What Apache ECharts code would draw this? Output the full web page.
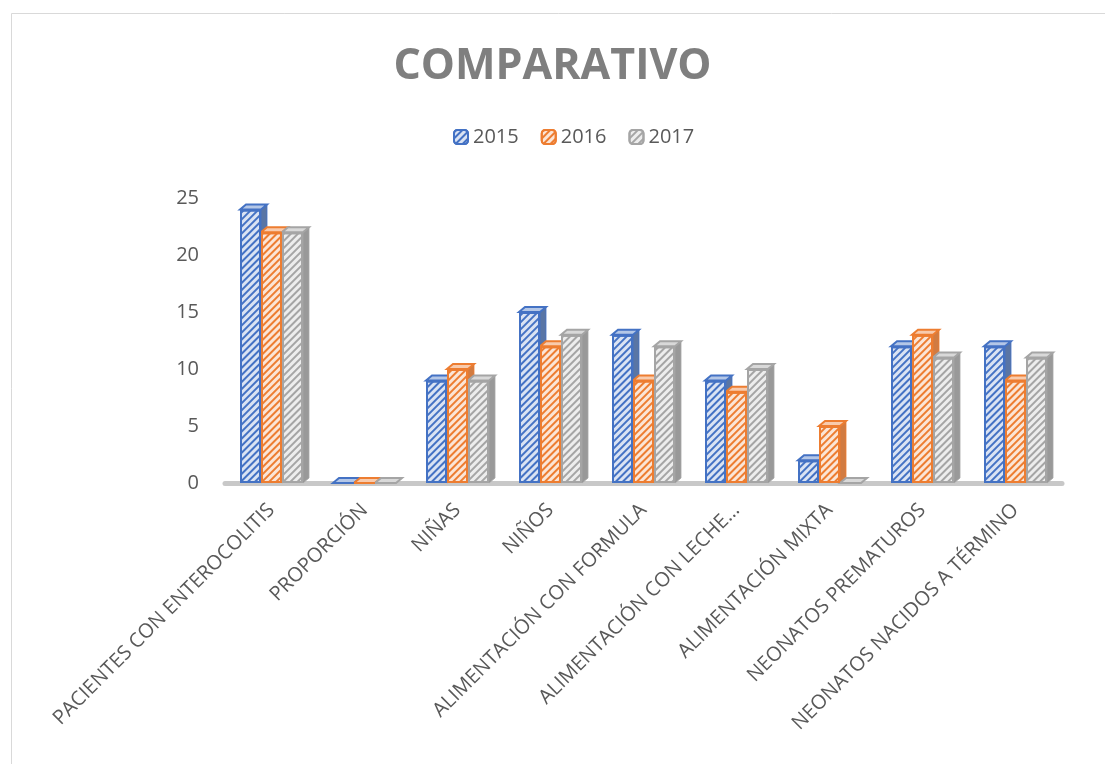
<!DOCTYPE html>
<html>
<head>
<meta charset="utf-8">
<script src="https://cdn.jsdelivr.net/npm/echarts@6/dist/echarts.min.js"></script>
<style>html,body{margin:0;padding:0;background:#fff}#c{width:1105px;height:764px}</style>
</head>
<body>
<div id="c"></div>
<script>
var categories = ['PACIENTES CON ENTEROCOLITIS','PROPORCIÓN','NIÑAS','NIÑOS','ALIMENTACIÓN CON FORMULA','ALIMENTACIÓN CON LECHE…','ALIMENTACIÓN MIXTA','NEONATOS PREMATUROS','NEONATOS NACIDOS A TÉRMINO'];
var years = ['2015','2016','2017'];
var v2015 = [24, 0, 9, 15, 13, 9, 2, 12, 12];
var v2016 = [22, 0, 10, 12, 9, 8, 5, 13, 9];
var v2017 = [22, 0, 9, 13, 12, 10, 0, 11, 11];
var yTicks = [0, 5, 10, 15, 20, 25];

var lineCols = ['#4472c4', '#ed7d31', '#a5a5a5'];
var fillCols = ['#dae3f3', '#fbe5d6', '#ededed'];
var sideCols = ['#2f528f', '#c55a11', '#7f7f7f'];
var topCols = ['#b4c7e7', '#f8cbad', '#d9d9d9'];
var values = [v2015, v2016, v2017];
var BW = 21, DX = 6, DY = 5;

var chart = echarts.init(document.getElementById('c'));
var FONT = '"Open Sans", Lato, sans-serif';

var barSeries = years.map(function (y, i) {
  return {
    name: y, type: 'bar', barWidth: BW, barGap: '0%', z: 3,
    data: values[i],
    itemStyle: {
      color: fillCols[i], borderColor: lineCols[i], borderWidth: 2,
      decal: { symbol: 'rect', symbolSize: 1, dashArrayX: [1, 0], dashArrayY: [2, 3], rotation: -Math.PI / 4, color: lineCols[i] }
    }
  };
});

var depthData = categories.map(function (c, k) { return [k, v2015[k], v2016[k], v2017[k]]; });

var depthSeries = {
  type: 'custom', z: 2, silent: true,
  data: depthData,
  renderItem: function (params, api) {
    var k = api.value(0);
    var children = [];
    for (var i = 0; i < 3; i++) {
      var v = api.value(i + 1);
      var top = api.coord([k, v]);
      var base = api.coord([k, 0]);
      var x0 = top[0] + (i - 1.5) * BW;
      var x1 = x0 + BW;
      var yt = top[1], yb = base[1];
      children.push({ type: 'polygon', shape: { points: [[x1, yt], [x1 + DX, yt - DY], [x1 + DX, yb - DY], [x1, yb]] },
        style: { fill: sideCols[i], stroke: lineCols[i], lineWidth: 1, opacity: 0.8 } });
      children.push({ type: 'polygon', shape: { points: [[x0, yt], [x0 + DX, yt - DY], [x1 + DX, yt - DY], [x1, yt]] },
        style: { fill: topCols[i], stroke: lineCols[i], lineWidth: 2 } });
    }
    return { type: 'group', children: children };
  }
};

chart.setOption({
  animation: false,
  backgroundColor: '#fff',
  title: { text: 'COMPARATIVO', left: 'center', top: 40,
    textStyle: { fontFamily: FONT, fontSize: 43, fontWeight: 'bold', color: '#7f7f7f' } },
  legend: { data: years, top: 122, left: 448, itemWidth: 14, itemHeight: 14, itemGap: 22,
    textStyle: { fontFamily: FONT, fontSize: 20, color: '#595959' } },
  graphic: [{ type: 'polyline', shape: { points: [[11.5, 764], [11.5, 13.5], [1105, 13.5]] },
    style: { stroke: '#d9d9d9', lineWidth: 1, fill: null } }],
  grid: { left: 225, right: 43, top: 198, bottom: 281 },
  xAxis: { type: 'category', data: categories,
    axisLine: { show: true, lineStyle: { color: '#c8c8c8', width: 5 } },
    axisTick: { show: false },
    axisLabel: { rotate: 45, interval: 0, margin: 24, fontFamily: FONT, fontSize: 20, color: '#595959' } },
  yAxis: { type: 'value', min: yTicks[0], max: yTicks[yTicks.length - 1], interval: 5,
    splitLine: { show: false }, axisLine: { show: false }, axisTick: { show: false },
    axisLabel: { margin: 26, fontFamily: FONT, fontSize: 20, color: '#595959' } },
  series: barSeries.concat([depthSeries])
});
</script>
</body>
</html>
